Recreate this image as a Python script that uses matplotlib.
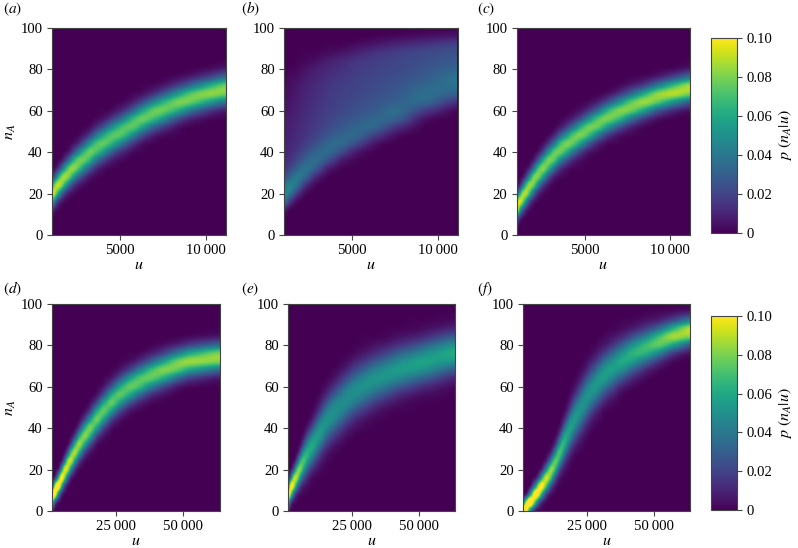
#!/usr/bin/env python3

import numpy as np
import matplotlib
matplotlib.use("Agg")
import matplotlib.pyplot as plt

plt.rcParams["font.family"] = ["Liberation Serif", "DejaVu Sans"]
plt.rcParams["mathtext.fontset"] = "stix"
plt.rcParams["font.size"] = 10.6

W, H = 798, 548

# density values, in units of 0.001
# one entry per u column: (first n_A that is non zero, values going up in steps of 4)
n_rows = list(range(0, 101, 4))

u_b = [1000, 1300, 1700, 2200, 2800, 3500, 4300, 5200, 6300, 7600, 9200, 11200]
u_ac = [1000, 1150, 1300, 1500, 1700, 1950, 2200, 2500, 2800, 3150, 3500, 3900, 4300, 4750,
        5200, 5750, 6300, 6950, 7600, 8400, 9200, 10200, 11200]
u_de = [1000, 2000, 2750, 3500, 4500, 5500, 6750, 8000, 9500, 11000, 13000, 15000, 17500,
        20000, 23000, 26000, 29500, 33000, 37500, 42000, 47000, 52000, 63700]
u_f = [1000, 2000, 3500, 5500, 6750, 8000, 9500, 11000, 12000, 13000, 14000, 15000, 16000,
       17000, 18500, 20000, 21500, 23000, 24500, 26000, 27500, 29000, 31000, 33000, 37500,
       42000, 47000, 52000, 57000, 63700]

panel_a = [
    (8, [2, 15, 60, 95, 60, 15, 2]),
    (12, [7, 38, 86, 80, 31, 5]),
    (12, [3, 20, 66, 91, 53, 13, 1]),
    (12, [1, 9, 41, 85, 76, 30, 5]),
    (16, [3, 22, 65, 87, 53, 15, 2]),
    (16, [1, 9, 40, 80, 76, 34, 7, 1]),
    (20, [4, 21, 59, 84, 59, 21, 4]),
    (20, [1, 9, 36, 73, 76, 42, 12, 2]),
    (24, [4, 20, 53, 78, 62, 27, 6, 1]),
    (24, [1, 8, 32, 66, 77, 49, 17, 3]),
    (28, [3, 15, 44, 73, 68, 36, 11, 2]),
    (28, [1, 6, 26, 59, 76, 55, 23, 5, 1]),
    (32, [2, 13, 40, 70, 70, 40, 13, 2]),
    (32, [1, 5, 22, 54, 75, 59, 26, 7, 1]),
    (36, [2, 11, 35, 68, 72, 44, 15, 3]),
    (40, [3, 16, 46, 74, 67, 33, 10, 2]),
    (40, [1, 5, 24, 57, 77, 57, 24, 5, 1]),
    (44, [1, 9, 33, 68, 76, 46, 15, 3]),
    (48, [3, 17, 49, 76, 66, 31, 8, 1]),
    (48, [1, 5, 24, 61, 80, 55, 20, 4]),
    (52, [1, 10, 38, 75, 75, 38, 10, 1]),
    (56, [3, 19, 56, 83, 61, 22, 4]),
    (56, [1, 9, 38, 78, 78, 38, 9, 1]),
]

panel_b = [
    (8, [1, 10, 38, 48, 38, 24, 16, 12, 10, 9, 8, 8, 7, 6, 5, 4, 3, 2, 1]),
    (12, [2, 18, 40, 44, 32, 21, 15, 12, 11, 10, 9, 8, 7, 6, 5, 4, 3, 1]),
    (16, [4, 20, 38, 40, 30, 21, 16, 13, 12, 11, 10, 9, 8, 7, 6, 4, 2, 1]),
    (20, [4, 16, 34, 38, 30, 23, 18, 15, 14, 13, 12, 11, 10, 9, 7, 5, 2, 1]),
    (24, [3, 13, 30, 36, 31, 24, 20, 17, 16, 15, 14, 13, 12, 10, 8, 4, 1]),
    (28, [2, 10, 26, 35, 32, 26, 22, 20, 18, 17, 16, 15, 13, 11, 8, 3, 1]),
    (32, [2, 9, 24, 34, 32, 27, 24, 21, 20, 19, 18, 16, 14, 11, 5, 1]),
    (36, [2, 8, 23, 33, 32, 28, 25, 23, 21, 20, 19, 17, 15, 9, 3]),
    (40, [1, 6, 19, 32, 33, 29, 26, 24, 23, 21, 20, 18, 14, 6, 1]),
    (48, [4, 15, 30, 35, 31, 28, 26, 24, 22, 21, 18, 10, 2]),
    (52, [1, 6, 19, 33, 36, 33, 29, 26, 24, 22, 14, 4, 1]),
    (60, [2, 14, 30, 37, 38, 33, 28, 25, 19, 6, 1]),
]

panel_c = [
    (4, [4, 30, 92, 92, 30, 4]),
    (4, [1, 13, 58, 95, 58, 13, 1]),
    (8, [5, 33, 82, 82, 33, 5]),
    (8, [1, 13, 52, 89, 65, 20, 3]),
    (12, [4, 24, 69, 85, 46, 11, 1]),
    (12, [1, 8, 36, 77, 77, 36, 8, 1]),
    (16, [2, 13, 47, 81, 68, 27, 5]),
    (20, [4, 20, 58, 82, 58, 20, 4]),
    (20, [1, 7, 29, 67, 79, 48, 15, 2]),
    (24, [1, 10, 38, 74, 74, 38, 10, 1]),
    (28, [3, 16, 48, 78, 67, 30, 7, 1]),
    (28, [1, 6, 26, 63, 80, 53, 19, 4]),
    (32, [2, 11, 39, 74, 74, 39, 11, 2]),
    (32, [1, 4, 19, 53, 80, 63, 26, 6, 1]),
    (36, [1, 7, 30, 67, 78, 48, 16, 3]),
    (40, [2, 11, 40, 75, 72, 36, 10, 1]),
    (44, [3, 18, 53, 80, 63, 25, 5]),
    (44, [1, 6, 29, 68, 80, 48, 15, 2]),
    (48, [2, 12, 43, 79, 72, 33, 8, 1]),
    (52, [3, 19, 59, 85, 59, 19, 3]),
    (56, [6, 31, 75, 82, 41, 9, 1]),
    (56, [1, 13, 51, 89, 68, 23, 3]),
    (60, [5, 30, 79, 87, 41, 8, 1]),
]

panel_d = [
    (0, [6, 73, 122, 27, 1]),
    (0, [1, 27, 108, 89, 15, 1]),
    (4, [11, 73, 112, 41, 4]),
    (4, [4, 40, 106, 76, 15, 1]),
    (4, [1, 12, 64, 105, 54, 8]),
    (8, [3, 25, 81, 93, 37, 5]),
    (12, [6, 36, 88, 84, 31, 4]),
    (12, [1, 10, 47, 90, 73, 25, 4]),
    (16, [2, 15, 54, 88, 66, 22, 3]),
    (20, [3, 20, 60, 86, 60, 20, 3]),
    (24, [4, 21, 59, 83, 59, 21, 4]),
    (24, [1, 6, 26, 63, 80, 53, 19, 4]),
    (28, [1, 5, 23, 58, 78, 58, 23, 5, 1]),
    (32, [1, 6, 24, 57, 76, 57, 24, 6, 1]),
    (36, [1, 5, 22, 55, 76, 59, 26, 7, 1]),
    (40, [1, 6, 24, 56, 75, 56, 24, 6, 1]),
    (44, [1, 7, 29, 62, 75, 51, 19, 4, 1]),
    (48, [2, 12, 39, 71, 71, 39, 12, 2]),
    (52, [3, 16, 48, 76, 66, 30, 8, 1]),
    (52, [1, 6, 26, 63, 80, 53, 19, 4]),
    (56, [1, 10, 39, 76, 76, 39, 10, 1]),
    (60, [3, 20, 59, 85, 59, 20, 3]),
    (60, [1, 7, 36, 80, 80, 36, 7, 1]),
]

panel_e = [
    (0, [8, 60, 115, 60, 8]),
    (0, [2, 19, 77, 101, 44, 6]),
    (0, [1, 8, 46, 97, 76, 22, 2]),
    (4, [3, 23, 73, 92, 47, 9, 1]),
    (4, [1, 9, 40, 81, 77, 34, 7, 1]),
    (8, [4, 19, 53, 80, 63, 26, 6, 1]),
    (8, [1, 8, 27, 57, 72, 54, 25, 7, 1]),
    (8, [1, 4, 14, 34, 58, 64, 47, 23, 7, 1]),
    (12, [1, 5, 18, 39, 57, 59, 41, 20, 6, 1]),
    (16, [2, 9, 22, 42, 57, 54, 37, 18, 6, 2]),
    (16, [1, 3, 9, 21, 39, 53, 53, 39, 21, 9, 3, 1]),
    (20, [1, 3, 9, 21, 36, 49, 51, 40, 24, 11, 4, 1]),
    (24, [1, 3, 9, 21, 36, 49, 50, 40, 24, 12, 4, 1]),
    (28, [1, 4, 11, 23, 38, 48, 48, 38, 23, 11, 4, 1]),
    (32, [1, 4, 11, 23, 38, 48, 48, 38, 23, 11, 4, 1]),
    (36, [1, 5, 12, 25, 40, 49, 48, 36, 21, 10, 3, 1]),
    (40, [2, 6, 15, 29, 44, 51, 46, 32, 17, 7, 2, 1]),
    (40, [1, 2, 8, 19, 34, 48, 52, 42, 26, 12, 5, 1]),
    (44, [1, 3, 10, 24, 40, 52, 50, 36, 20, 8, 2, 1]),
    (48, [1, 5, 14, 30, 47, 55, 47, 30, 14, 5, 1]),
    (48, [1, 2, 8, 21, 39, 54, 54, 39, 21, 8, 2, 1]),
    (52, [1, 4, 13, 30, 49, 58, 49, 30, 13, 4, 1]),
    (56, [1, 3, 11, 29, 51, 62, 51, 29, 11, 3, 1]),
]

panel_f = [
    (0, [135, 50, 2]),
    (0, [116, 88, 7]),
    (0, [51, 125, 51, 4]),
    (0, [10, 68, 114, 47, 5]),
    (0, [3, 32, 98, 90, 24, 2]),
    (0, [1, 12, 60, 105, 60, 12, 1]),
    (4, [3, 23, 74, 93, 46, 9, 1]),
    (4, [1, 7, 36, 80, 80, 36, 7, 1]),
    (8, [3, 17, 53, 82, 63, 24, 4]),
    (8, [1, 7, 29, 65, 76, 47, 15, 3]),
    (12, [2, 12, 39, 69, 69, 39, 12, 2]),
    (12, [1, 5, 19, 47, 69, 61, 32, 10, 2]),
    (16, [2, 9, 27, 53, 66, 53, 27, 9, 2]),
    (16, [1, 4, 13, 33, 55, 61, 45, 22, 7, 2]),
    (20, [1, 4, 14, 32, 51, 58, 46, 25, 10, 3, 1]),
    (24, [1, 5, 15, 32, 49, 55, 45, 27, 12, 4, 1]),
    (28, [2, 7, 18, 34, 49, 53, 42, 25, 12, 4, 1]),
    (28, [1, 3, 9, 21, 36, 49, 51, 40, 24, 11, 4, 1]),
    (32, [1, 4, 10, 23, 39, 50, 50, 38, 22, 9, 3, 1]),
    (36, [1, 5, 12, 26, 42, 52, 48, 34, 19, 8, 2, 1]),
    (40, [2, 6, 16, 32, 48, 53, 44, 28, 13, 5, 1]),
    (40, [1, 3, 9, 22, 39, 52, 52, 39, 22, 9, 3, 1]),
    (44, [1, 3, 11, 26, 44, 56, 51, 35, 17, 6, 2]),
    (48, [1, 5, 15, 32, 50, 57, 46, 27, 11, 4, 1]),
    (52, [1, 3, 12, 30, 51, 60, 49, 28, 11, 3, 1]),
    (60, [3, 12, 31, 55, 65, 50, 25, 8, 2]),
    (64, [3, 12, 35, 63, 68, 45, 18, 5, 1]),
    (68, [3, 15, 44, 75, 69, 36, 10, 2]),
    (72, [3, 19, 58, 86, 62, 22, 4]),
    (76, [5, 30, 80, 89, 42, 8, 1]),
]

top_ticks = [5000, 10000]
top_labels = ["5000", "10\u2009000"]
bottom_ticks = [25000, 50000]
bottom_labels = ["25\u2009000", "50\u2009000"]
n_ticks = [0, 20, 40, 60, 80, 100]
cbar_ticks = [0, 0.02, 0.04, 0.06, 0.08, 0.10]
cbar_labels = ["0", "0.02", "0.04", "0.06", "0.08", "0.10"]

SPINE = "#444444"


def pixel_axes(fig, left, right, top, bottom):
    return fig.add_axes([left / W, 1 - bottom / H, (right - left) / W, (bottom - top) / H])


def to_matrix(columns):
    z = np.zeros((len(n_rows), len(columns)))
    for j, (start, vals) in enumerate(columns):
        i = n_rows.index(start)
        z[i:i + len(vals), j] = vals
    return z / 1000.0


def style(ax):
    for s in ax.spines.values():
        s.set_color(SPINE)
        s.set_linewidth(0.8)
    ax.tick_params(length=3.5, width=0.8, color=SPINE, pad=3)


def panel(ax, u, columns, ticks, labels, ylabel):
    # the u columns are not evenly spaced, so the x axis counts columns and
    # its scale stretches them out to where they sit in u
    idx = np.arange(len(u))
    idx_ext = np.r_[-1, idx, len(u)]
    u_ext = np.r_[2 * u[0] - u[1], u, 2 * u[-1] - u[-2]]
    ax.set_xscale("function", functions=(lambda i: np.interp(i, idx_ext, u_ext),
                                         lambda v: np.interp(v, u_ext, idx_ext)))
    ax.set_facecolor(plt.get_cmap("viridis")(0))
    img = ax.imshow(to_matrix(columns), origin="lower", aspect="auto", cmap="viridis",
                    vmin=0, vmax=0.1, interpolation="catrom",
                    extent=(-0.5, len(u) - 0.5, -2, 102))
    ax.set_xlim(0, len(u) - 1)
    ax.set_ylim(0, 100)
    ax.set_xticks(np.interp(ticks, u, idx))
    ax.set_xticklabels(labels)
    ax.minorticks_off()
    ax.set_yticks(n_ticks)
    ax.set_xlabel("$u$", labelpad=0, fontsize=11.5)
    if ylabel:
        ax.set_ylabel("$n_A$", labelpad=2, fontsize=11.5)
    style(ax)
    return img


def colorbar(fig, mesh, left, right, top, bottom):
    cax = pixel_axes(fig, left, right, top, bottom)
    cb = fig.colorbar(mesh, cax=cax)
    cb.set_ticks(cbar_ticks)
    cb.set_ticklabels(cbar_labels)
    cb.set_label(r"$p\ (n_A|u)$", labelpad=3, fontsize=11.5)
    cb.outline.set_edgecolor(SPINE)
    cb.outline.set_linewidth(0.8)
    cax.tick_params(length=3.5, width=0.8, color=SPINE, pad=3)


fig = plt.figure(figsize=(W / 100, H / 100), dpi=100)

m = panel(pixel_axes(fig, 52, 226, 28, 235), u_ac, panel_a, top_ticks, top_labels, True)
panel(pixel_axes(fig, 284, 458, 28, 235), u_b, panel_b, top_ticks, top_labels, False)
panel(pixel_axes(fig, 516.5, 690, 28, 235), u_ac, panel_c, top_ticks, top_labels, False)
colorbar(fig, m, 711, 737, 38, 233)

m = panel(pixel_axes(fig, 52, 220, 304, 511), u_de, panel_d, bottom_ticks, bottom_labels, True)
panel(pixel_axes(fig, 288, 455, 304, 511), u_de, panel_e, bottom_ticks, bottom_labels, False)
panel(pixel_axes(fig, 523, 690, 304, 511), u_f, panel_f, bottom_ticks, bottom_labels, False)
colorbar(fig, m, 711, 737, 316, 510)

for label, x, y in [("a", 3, 9), ("b", 241, 9), ("c", 477, 9),
                    ("d", 3, 289), ("e", 241, 289), ("f", 477, 289)]:
    fig.text(x / W, 1 - y / H, "$(%s)$" % label, va="center", ha="left", fontsize=11)

fig.savefig("out.png", dpi=100)
